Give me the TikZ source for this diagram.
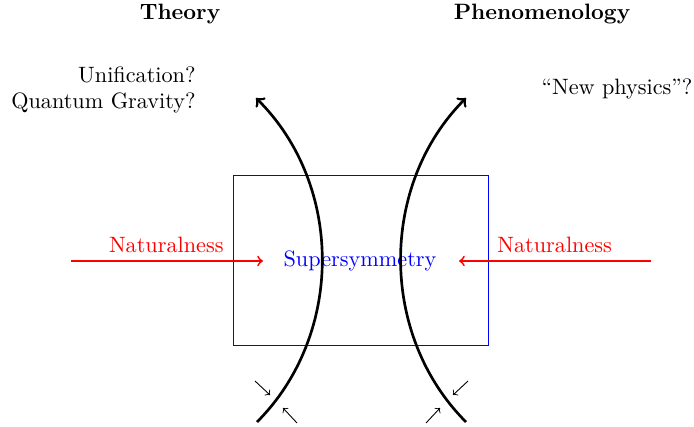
\documentclass[tikz,border=0pt]{standalone}
\usetikzlibrary{arrows}
\begin{document}
\begin{tikzpicture}[x=0.45pt,y=-0.45pt,
  head/.style={font=\bfseries},
  curve/.style={very thick,->},
  natarrow/.style={red,thick,->},
  small/.style={->,thin}]
\useasboundingbox (0,0) rectangle (694,427);
\node[head] (theory) at (180,14) {Theory};
\node[head] (pheno) at (542,14) {Phenomenology};
\node[align=right,anchor=east,inner sep=0pt] (unif) at (196,90) {Unification?\\Quantum Gravity?};
\node (newp) at (617,89) {``New physics''?};
\node[draw=blue,minimum width=255*0.45pt,minimum height=170*0.45pt,inner sep=0pt] (box) at (360.5,260) {};
\node[blue] (susy) at (360,261) {Supersymmetry};
\coordinate (la) at (71,261);
\coordinate (lb) at (263,261);
\coordinate (ra) at (651,261);
\coordinate (rb) at (459,261);
\draw[natarrow] (la) -- (lb);
\draw[natarrow] (ra) -- (rb);
\node[red,anchor=south east,inner sep=0pt] (natl) at (224,253) {Naturalness};
\node[red,anchor=south west,inner sep=0pt] (natr) at (497,253) {Naturalness};
\coordinate (c1s) at (257,422);
\coordinate (c1e) at (256,98);
\coordinate (c2s) at (466,422);
\coordinate (c2e) at (466,98);
\draw[curve] (c1s) .. controls (344,335) and (344,185) .. (c1e);
\draw[curve] (c2s) .. controls (379,335) and (379,185) .. (c2e);
\coordinate (s1a) at (255,381); \coordinate (s1b) at (270,395);
\coordinate (s2a) at (297,423); \coordinate (s2b) at (283,408);
\coordinate (s3a) at (468,381); \coordinate (s3b) at (453,395);
\coordinate (s4a) at (426,423); \coordinate (s4b) at (440,408);
\draw[small] (s1a) -- (s1b);
\draw[small] (s2a) -- (s2b);
\draw[small] (s3a) -- (s3b);
\draw[small] (s4a) -- (s4b);
\end{tikzpicture}
\end{document}
